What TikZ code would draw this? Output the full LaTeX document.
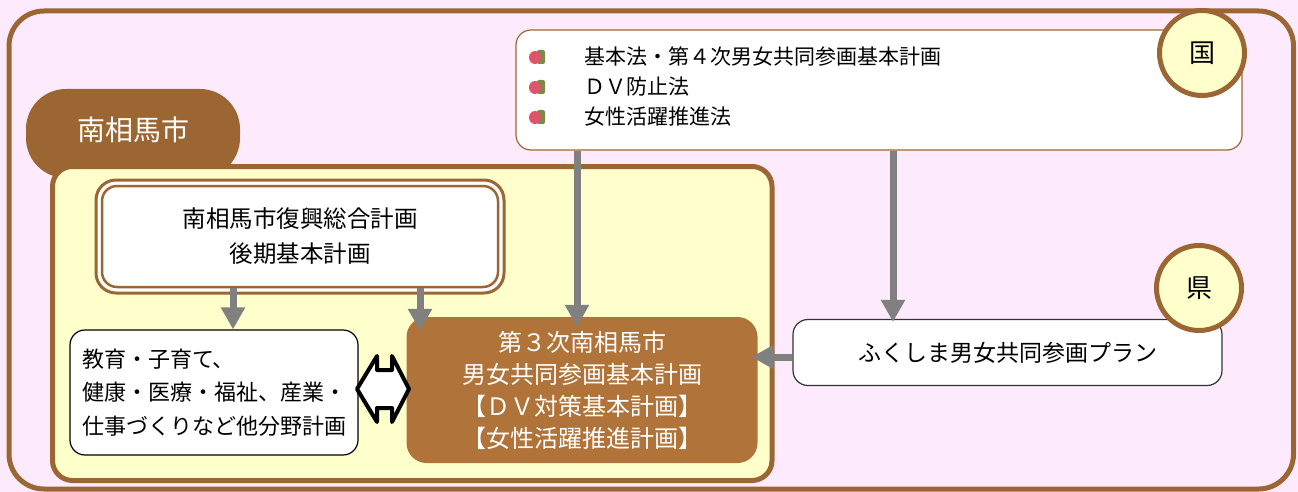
\documentclass[tikz,border=0pt]{standalone}
\usepackage{fontspec}
\setmainfont{Noto Sans CJK JP}
\usetikzlibrary{arrows.meta}
\definecolor{bg}{RGB}{253,235,253}
\definecolor{brn}{RGB}{156,102,51}
\definecolor{brnbox}{RGB}{176,115,58}
\definecolor{yel}{RGB}{255,255,204}
\definecolor{garr}{RGB}{128,128,128}
\definecolor{rose}{RGB}{222,84,104}
\definecolor{leaf}{RGB}{118,140,72}
\tikzset{
  garrow/.style={draw=garr, line width=7pt, -{Triangle[width=23pt,length=22pt]}},
  circ/.style={circle, draw=brn, line width=5pt, fill=yel, minimum size=85pt, inner sep=0pt, font=\fontsize{26}{28}\selectfont},
  whitebox/.style={draw=black, line width=1.2pt, fill=white, rounded corners=15pt, inner sep=0pt},
  bullet/.style={ellipse, fill=rose, minimum width=12pt, minimum height=13pt, inner sep=0pt},
  listtext/.style={anchor=west, inner sep=0pt, font=\fontsize{21}{24}\selectfont},
}
\usetikzlibrary{shapes.geometric}
\begin{document}
\begin{tikzpicture}[x=1pt,y=-1pt]
\useasboundingbox (0,0) rectangle (1298,492);
\fill[bg] (0,0) rectangle (1298,492);
% outer frame
\draw[brn, line width=5pt, rounded corners=35pt] (9,11) rectangle (1293.5,489);
% city tab
\fill[brn, rounded corners=40pt] (26,89) rectangle (240,178);
\node[text=white, inner sep=0pt, font=\fontsize{28}{30}\selectfont] (tab) at (133,130) {南相馬市};
% yellow area
\draw[brn, line width=5pt, fill=yel, rounded corners=20pt] (52.5,166.5) rectangle (772,480.5);
% double bordered box
\draw[brn, line width=3pt, fill=white, rounded corners=20pt] (96,180) rectangle (504,293);
\node[draw=brn, line width=2.5pt, rounded corners=15pt, minimum width=396pt, minimum height=101pt, inner sep=0pt, align=center, font=\fontsize{23.5}{35}\selectfont] (fukko) at (300,236.5) {南相馬市復興総合計画\\後期基本計画};
% other plans
\node[whitebox, minimum width=287pt, minimum height=125pt, inner xsep=12pt, align=left, font=\fontsize{22}{33.5}\selectfont] (other) at (214,392.5) {教育・子育て、\\健康・医療・福祉、産業・\\仕事づくりなど他分野計画};
% main plan
\node[fill=brnbox, rounded corners=20pt, minimum width=351pt, minimum height=146pt, inner sep=0pt, text=white, align=center, font=\fontsize{24}{32}\selectfont] (plan) at (582,390) {第３次南相馬市\\男女共同参画基本計画\\【ＤＶ対策基本計画】\\【女性活躍推進計画】};
% national box
\node[draw=brn, line width=1.2pt, fill=white, rounded corners=15pt, minimum width=726pt, minimum height=120pt, inner sep=0pt] (kuni) at (879,90) {};
\foreach \yy/\tt [count=\i] in {57/基本法・第４次男女共同参画基本計画, 87/ＤＶ防止法, 117/女性活躍推進法}{
  \fill[leaf, rounded corners=2pt] (537,\yy-7) rectangle (545,\yy+7);
  \node[bullet] (b\i) at (535,\yy+0.5) {};
  \node[listtext] (l\i) at (584,\yy) {\tt};
}
% prefecture box
\node[whitebox, draw=black!80, minimum width=429pt, minimum height=66pt, font=\fontsize{23}{26}\selectfont] (fuku) at (1007.5,352.5) {ふくしま男女共同参画プラン};
% circles
\node[circ] (kc) at (1202,53) {国};
\node[circ] (pc) at (1199,288) {県};
% arrows
\draw[garrow] ([xshift=-67pt]fukko.south) -- ([xshift=19pt]other.north);
\draw[garrow, shorten >=-14pt] ([xshift=120pt]fukko.south) -- ([xshift=-162pt]plan.north);
\draw[garrow, shorten >=-10pt] ([xshift=-302pt]kuni.south) -- ([xshift=-5pt]plan.north);
\draw[garrow, shorten >=-3pt] ([xshift=14pt]kuni.south) -- ([xshift=-114.5pt]fuku.north);
\coordinate (fw) at ([yshift=-4.5pt]fuku.west);
\draw[garrow, shorten >=-6pt] (fw) -- (fw -| plan.east);
% double arrow
\draw[black, line width=4pt, line join=round, fill=white]
  (357,389) coordinate (da1) -- (377,356) -- (377,370) -- (392,370) -- (392,356) -- (409,389) coordinate (da2)
  -- (392,422) -- (392,408) -- (377,408) -- (377,422) -- cycle;
\end{tikzpicture}
\end{document}
